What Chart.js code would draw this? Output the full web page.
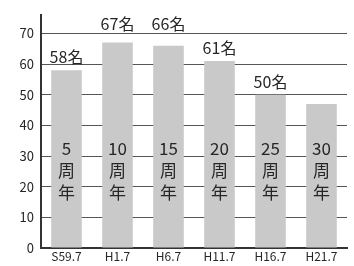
<!DOCTYPE html>
<html>
<head>
<meta charset="utf-8">
<script src="https://cdn.jsdelivr.net/npm/chart.js@4/dist/chart.umd.min.js"></script>
<style>
  html, body { margin: 0; padding: 0; background: #fff; }
  #wrap { width: 354px; height: 266px; }
</style>
</head>
<body>
<div id="wrap"><canvas id="chart-members"></canvas></div>
<script>
// 会員数の推移
const dates = ['S59.7', 'H1.7', 'H6.7', 'H11.7', 'H16.7', 'H21.7'];
const members = [58, 67, 66, 61, 50, 47];
const topLabels = ['58名', '67名', '66名', '61名', '50名', ''];
const anniversaries = ['5', '10', '15', '20', '25', '30'];

const FONT = '"Noto Sans CJK JP", "Noto Sans", sans-serif';
const INK = '#262626';

// draw the value labels and 周年 labels from the bar elements
const labelPlugin = {
  id: 'barText',
  afterDatasetsDraw(chart) {
    const ctx = chart.ctx;
    const meta = chart.getDatasetMeta(0);
    const y = chart.scales.y;
    const y70 = y.getPixelForValue(70);
    ctx.save();
    ctx.fillStyle = INK;
    ctx.textAlign = 'center';
    meta.data.forEach((bar, i) => {
      ctx.textBaseline = 'bottom';
      ctx.font = '16px ' + FONT;
      let base = bar.y - 5;
      // keep labels off the top grid line
      if (base - 16 < y70 && base > y70) base = y70 - 1;
      if (topLabels[i]) ctx.fillText(topLabels[i], bar.x, base);

      ctx.textBaseline = 'middle';
      ctx.font = '17px ' + FONT;
      const y0 = y.getPixelForValue(32.5);
      [anniversaries[i], '周', '年'].forEach((s, k) => {
        ctx.fillText(s, bar.x, y0 + k * 22);
      });
    });
    ctx.restore();
  }
};

new Chart(document.getElementById('chart-members'), {
  type: 'bar',
  data: {
    labels: dates,
    datasets: [{
      data: members,
      backgroundColor: '#c9c9c9',
      borderWidth: 0,
      barPercentage: 0.6,
      categoryPercentage: 1
    }]
  },
  options: {
    responsive: true,
    maintainAspectRatio: false,
    animation: false,
    layout: { padding: { top: 15, right: 7, left: 0, bottom: 0 } },
    plugins: { legend: { display: false }, tooltip: { enabled: false } },
    scales: {
      x: {
        grid: { display: false, drawTicks: false },
        border: { color: '#333', width: 2 },
        ticks: { color: INK, font: { family: FONT, size: 12 }, padding: 1, maxRotation: 0 },
        afterFit(s) { s.height = 18; }
      },
      y: {
        min: 0,
        max: 76,
        afterBuildTicks(s) { s.ticks = s.ticks.filter(t => t.value % 10 === 0); },
        grid: { color: '#555', lineWidth: 1, drawTicks: false },
        border: { color: '#333', width: 2 },
        ticks: { stepSize: 10, color: INK, font: { family: FONT, size: 13 }, padding: 7 },
        afterFit(s) { s.width = 41; }
      }
    }
  },
  plugins: [labelPlugin]
});
</script>
</body>
</html>
